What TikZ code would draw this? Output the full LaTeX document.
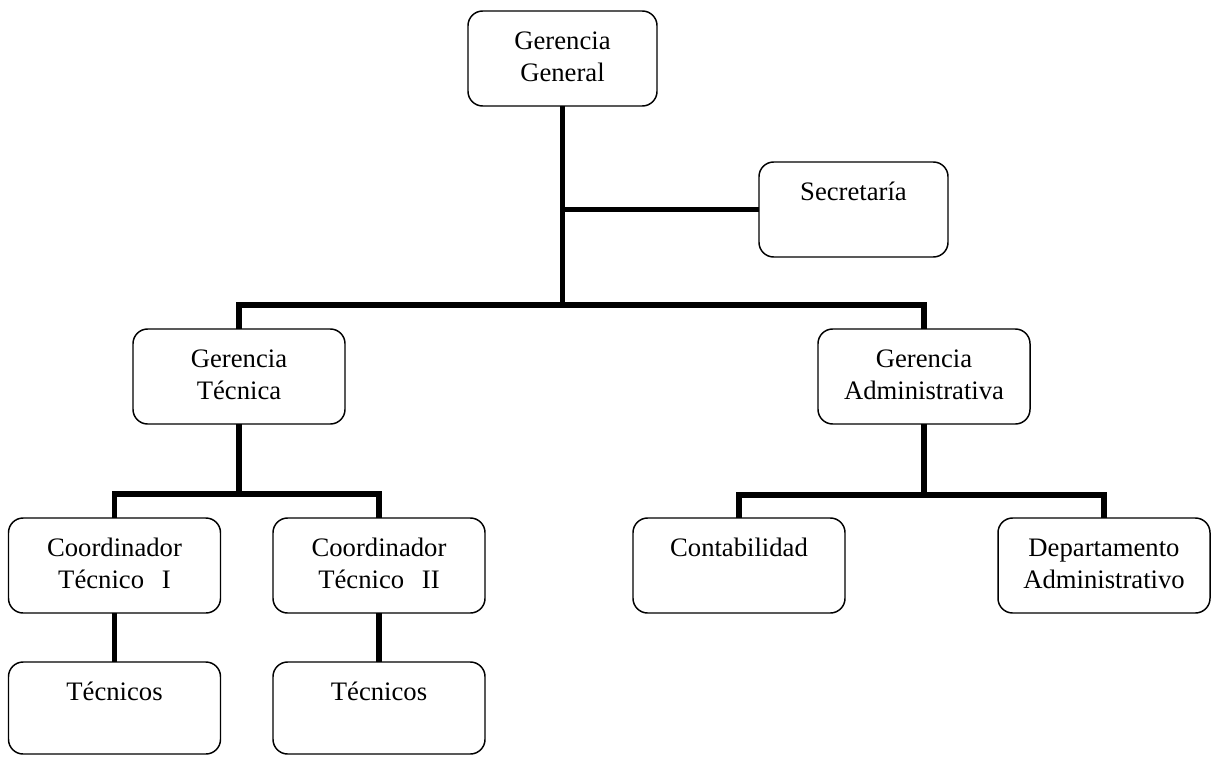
\documentclass[tikz,border=0pt]{standalone}
\usepackage{fontspec}
\setmainfont{Liberation Serif}
\usepackage{tikz}

\tikzset{
    cargo/.style={draw, line width=1.1pt, rounded corners=11pt, anchor=north,
        inner xsep=0pt, inner ysep=0pt, outer sep=0pt, text width=159pt, align=center,
        text height=29pt, text depth=42.25pt, font=\fontsize{20pt}{24pt}\selectfont},
    cargo corto/.style={cargo, text width=141.75pt},
    cargo bajo/.style={cargo, text depth=40pt},
    enlace/.style={line width=4pt}
}

\begin{document}
\begin{tikzpicture}[x=0.75pt,y=-0.75pt]
    \useasboundingbox (0,0) rectangle (1212,756);

    \node (gg) [cargo corto] at (562.5,11) {Gerencia\\General};
    \node (sec) [cargo corto] at (853.5,162) {Secretaría};
    \node (gt) [cargo] at (239,329) {Gerencia\\Técnica};
    \node (ga) [cargo] at (924,329) {Gerencia\\Administrativa};
    \node (c1) [cargo] at (114.5,518) {Coordinador\\Técnico~~I};
    \node (c2) [cargo] at (379,518) {Coordinador\\Técnico~~II};
    \node (cont) [cargo] at (739,518) {Contabilidad};
    \node (dep) [cargo] at (1104,518) {Departamento\\Administrativo};
    \node (t1) [cargo bajo] at (114.5,662) {Técnicos};
    \node (t2) [cargo bajo] at (379,662) {Técnicos};

    \coordinate (tronco) at (gg.south |- 0,305);
    \coordinate (ramaT) at (gt.south |- 0,494);
    \coordinate (ramaA) at (ga.south |- 0,495);

    \draw[enlace] (gg.south) -- (tronco);
    \draw[enlace] (gg.south |- sec.west) -- (sec.west);
    \draw[enlace] (gt.north) |- (tronco) -| (ga.north);

    \draw[enlace] (gt.south) -- (ramaT);
    \draw[enlace] (c1.north) |- (ramaT) -| (c2.north);
    \draw[enlace] (ga.south) -- (ramaA);
    \draw[enlace] (cont.north) |- (ramaA) -| (dep.north);

    \draw[enlace] (c1.south) -- (t1.north);
    \draw[enlace] (c2.south) -- (t2.north);
\end{tikzpicture}
\end{document}
